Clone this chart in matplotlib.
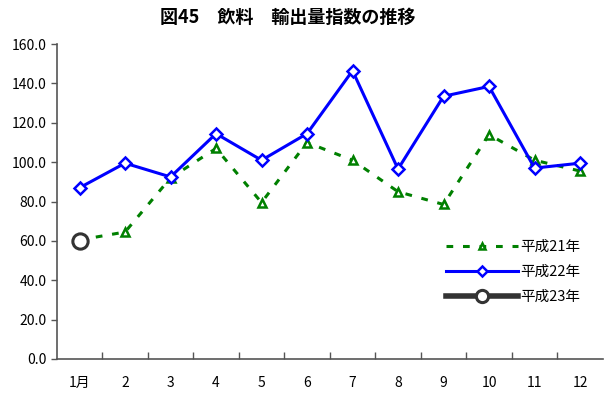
import matplotlib
matplotlib.use('Agg')
import matplotlib.pyplot as plt
from matplotlib.ticker import FixedLocator, NullFormatter

plt.rcParams['font.family'] = ['Noto Sans CJK JP', 'DejaVu Sans']

months = list(range(1, 13))
month_labels = ['1月', '2', '3', '4', '5', '6', '7', '8', '9', '10', '11', '12']

h21 = [60.5, 64.5, 92.0, 107.0, 79.5, 110.0, 101.0, 85.0, 78.5, 114.0, 101.0, 95.5]
h22 = [87.0, 99.5, 92.5, 114.5, 101.0, 114.5, 146.5, 96.5, 133.5, 138.5, 97.0, 99.5]
h23 = [60.0]

fig = plt.figure(figsize=(6.04, 3.94), dpi=100)
ax = fig.add_axes([0.094, 0.089, 0.904, 0.799])

ax.plot(months, h21, color='#008000', lw=2.2, linestyle=(0, (2.2, 3.2)),
        marker='^', ms=6, mfc='white', mec='#008000', mew=1.8, label='平成21年', zorder=2)
ax.plot(months, h22, color='#0000ff', lw=2.2,
        marker='D', ms=6, mfc='white', mec='#0000ff', mew=1.8, label='平成22年', zorder=3)
ax.plot(months[:len(h23)], h23, color='#333333', lw=4,
        marker='o', ms=11, mfc='white', mec='#333333', mew=2.2, label='平成23年', zorder=4)

ax.set_xlim(0.5, 12.5)
ax.set_ylim(0, 160)
ax.set_yticks([0, 20, 40, 60, 80, 100, 120, 140, 160])
ax.set_yticklabels([f'{v:.1f}' for v in ax.get_yticks()])
ax.set_xticks(months)
ax.set_xticklabels(month_labels)
ax.xaxis.set_minor_locator(FixedLocator([m + 0.5 for m in months[:-1]]))
ax.xaxis.set_minor_formatter(NullFormatter())
ax.tick_params(axis='x', which='major', length=0, pad=12, labelsize=10)
ax.tick_params(axis='x', which='minor', direction='in', length=5, width=1, color='#555555')
ax.tick_params(axis='y', direction='out', length=4, width=1, color='#555555', labelsize=10)

for side in ['top', 'right']:
    ax.spines[side].set_visible(False)
for side in ['left', 'bottom']:
    ax.spines[side].set_color('#555555')
    ax.spines[side].set_linewidth(1.2)

fig.text(0.476, 0.955, '図45\u3000飲料\u3000輸出量指数の推移', ha='center', va='center',
         fontsize=13, fontweight='bold')

ax.legend(loc='upper left', bbox_to_anchor=(0.728, 0.405), bbox_transform=fig.transFigure,
          frameon=False, fontsize=10.5, handlelength=5.0, handletextpad=0.1,
          labelspacing=0.75, borderaxespad=0, markerscale=0.8)

fig.savefig('out.png', dpi=100)
